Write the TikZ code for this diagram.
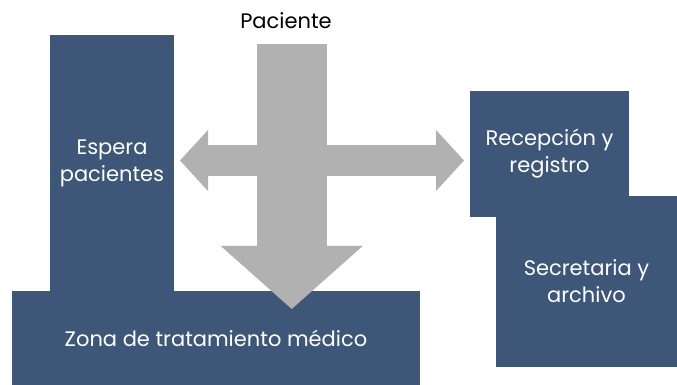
\documentclass[tikz,border=0pt]{standalone}
\usepackage{fontspec}
\setmainfont{Poppins}
\usetikzlibrary{arrows.meta, positioning}
\definecolor{roomblue}{HTML}{3E5677}
\definecolor{flowgray}{HTML}{B1B1B1}
\tikzstyle{room} = [rectangle, fill=roomblue, text=white, align=center, inner sep=0pt, font=\fontsize{21}{27}\selectfont]
\tikzset{
	flow/.style={draw=flowgray}
}

\begin{document}
\begin{tikzpicture}[x=1pt, y=1pt]
		\useasboundingbox (0,0) rectangle (677,385);
		
		% Rooms
		\node (espera) [room, minimum width=124pt, minimum height=256pt] at (112,222) {Espera\\pacientes};
		\node (zona) [room, minimum width=408pt, minimum height=94pt] at (216,47) {Zona de tratamiento médico};
		\node (recepcion) [room, minimum width=159pt, minimum height=126pt] at (549.5,231) {Recepción y\\registro};
		\node (secretaria) [room, minimum width=181pt, minimum height=171pt] at (586.5,103.5) {Secretaria y\\archivo};
		
		% Patient flow
		\node (paciente) [font=\fontsize{21}{25}\selectfont] at (286,364) {Paciente};
		\coordinate (hleft) at (180,224.5);
		\coordinate (hright) at (464,224.5);
		\coordinate (vtop) at (291.75,341);
		\coordinate (vtip) at (291.75,76);
		\draw [flow, line width=31pt, {Triangle[width=61pt, length=28pt, line width=0pt]}-{Triangle[width=61pt, length=28pt, line width=0pt]}] (hleft) -- (hright);
		\draw [flow, line width=70.5pt, -{Triangle[width=142pt, length=63pt, line width=0pt]}] (vtop) -- (vtip);
		
	\end{tikzpicture}
\end{document}
